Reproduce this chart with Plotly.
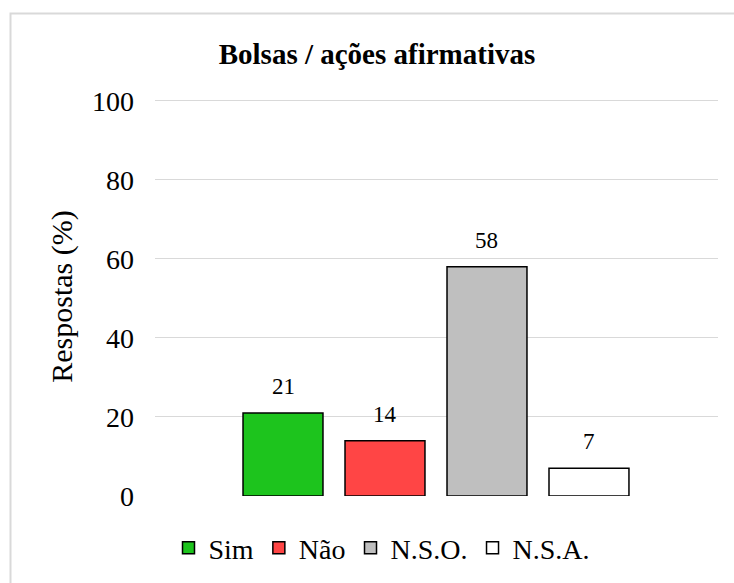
import plotly.graph_objects as go

categories = ["Sim", "Não", "N.S.O.", "N.S.A."]
values = [21, 14, 58, 7]
colors = ["#1DC41D", "#FF4545", "#BFBFBF", "#FFFFFF"]
title_text = "Bolsas / ações afirmativas"
y_title = "Respostas (%)"
y_ticks = [0, 20, 40, 60, 80, 100]

W, H = 734, 583
L, R, T, B = 155, 16, 97, 87
pw, ph = W - L - R, H - T - B

FONT = "Liberation Serif, Times New Roman, serif"

fig = go.Figure()
for cat, val, col in zip(categories, values, colors):
    fig.add_trace(go.Bar(
        x=[cat], y=[val], name=cat,
        marker=dict(color=col, line=dict(color="#000000", width=1.5)),
        width=0.784, showlegend=True, hoverinfo="skip",
    ))
    fig.add_annotation(x=cat, y=val, text=str(val), showarrow=False,
                       yanchor="bottom", yshift=12,
                       font=dict(family=FONT, size=23, color="#000000"))

def px_to_paper_x(px):
    return (px - L) / pw

def px_to_paper_y(py):
    return (H - B - py) / ph

# outer light border (chart area frame)
fig.add_shape(type="rect", xref="paper", yref="paper",
              x0=px_to_paper_x(10.5), x1=px_to_paper_x(W + 20),
              y0=px_to_paper_y(H + 20), y1=px_to_paper_y(13.5),
              line=dict(color="#D9D9D9", width=2), fillcolor="rgba(0,0,0,0)",
              layer="below")

fig.update_layout(
    width=W, height=H,
    margin=dict(l=L, r=R, t=T, b=B, autoexpand=False),
    paper_bgcolor="white", plot_bgcolor="white",
    barmode="overlay",
    font=dict(family=FONT, size=28, color="#000000"),
    title=dict(text="<b>" + title_text + "</b>", x=377 / W, xanchor="center",
               y=1 - 54 / H, yanchor="middle", xref="container", yref="container",
               font=dict(family=FONT, size=29, color="#000000")),
    xaxis=dict(type="category", categoryorder="array", categoryarray=categories,
               range=[-1.255, 4.265], showticklabels=False, showgrid=False,
               zeroline=False, showline=False, ticks=""),
    yaxis=dict(range=[0, 101], tickvals=y_ticks, showgrid=True,
               gridcolor="#D9D9D9", gridwidth=1, zeroline=False, showline=False,
               ticks="", ticklabelstandoff=20,
               tickfont=dict(family=FONT, size=28, color="#000000"),
               title=dict(text=y_title, standoff=10,
                          font=dict(family=FONT, size=30, color="#000000"))),
    legend=dict(orientation="h", x=px_to_paper_x(382), xanchor="center",
                y=px_to_paper_y(548), yanchor="middle",
                font=dict(family=FONT, size=28, color="#000000"),
                itemclick=False, itemdoubleclick=False),
)

fig.write_html("out.html", config={"displayModeBar": False},
               post_script="document.body.style.margin='0px';")
